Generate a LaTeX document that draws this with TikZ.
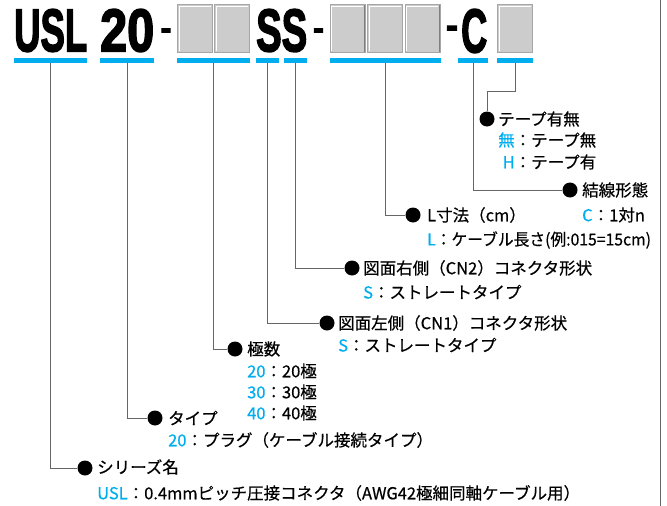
\documentclass[tikz,border=0pt]{standalone}
\usepackage{fontspec}
\setmainfont{Noto Sans CJK JP}[FakeBold=0.5]
\newfontfamily\titlefont{Liberation Sans Bold}[FakeBold=3]
\usepackage{xcolor}
\usetikzlibrary{arrows.meta}
\definecolor{keyblue}{RGB}{0,174,239}
\definecolor{slotgray}{RGB}{204,204,204}
\tikzset{%
  keybar/.style={fill=keyblue, inner sep=0pt, minimum height=5pt},
  slot/.style={fill=slotgray, draw=black!35, line width=0.8pt, inner sep=0pt,
    minimum width=35pt, minimum height=48pt,
    path picture={
      \draw[white, line width=1.2pt] ([shift={(1.6pt,1.6pt)}]path picture bounding box.south west)
        |- ([shift={(-1.6pt,-1.6pt)}]path picture bounding box.north east);
      \draw[black!50, line width=2pt] (path picture bounding box.north east)
        |- (path picture bounding box.south west);}},
  lead/.style={draw=black!60, line width=0.9pt},
  dot/.style={circle, fill=black, inner sep=0pt, minimum size=15pt},
  txt/.style={anchor=west, inner sep=0pt, font=\fontsize{16.5pt}{20pt}\selectfont},
  big/.style={inner sep=0pt, anchor=south west},
  hyph/.style={inner sep=0pt, anchor=base}
}
\newcommand{\kb}[1]{\textcolor{keyblue}{#1}}

\begin{document}
\begin{tikzpicture}[x=1pt,y=-1pt]
    \useasboundingbox (0,0) rectangle (667,506);
    % part number
    \node[big] (tUSL) at (14,52) {\resizebox{73pt}{42pt}{\titlefont USL}};
    \node[big] (tTwenty) at (100,52) {\resizebox{54pt}{42pt}{\titlefont 20}};
    \node[hyph] (hyA) at (166,38.8) {\fontsize{32pt}{32pt}\titlefont -};
    \node[slot] (sP1) at (195,28.5) {};
    \node[slot] (sP2) at (232,28.5) {};
    \node[big] (tSS) at (256,52) {\resizebox{51pt}{42pt}{\titlefont SS}};
    \node[hyph] (hyB) at (318.5,38.8) {\fontsize{32pt}{32pt}\titlefont -};
    \node[slot] (sL1) at (347.5,28.5) {};
    \node[slot] (sL2) at (385,28.5) {};
    \node[slot] (sL3) at (422.5,28.5) {};
    \node[hyph] (hyC) at (452,37.5) {\fontsize{36pt}{36pt}\titlefont -};
    \node[big] (tC) at (461,53) {\resizebox{26pt}{43pt}{\titlefont C}};
    \node[slot] (sT) at (515,28.5) {};
    % blue bars
    \node[keybar, minimum width=73pt] (bUSL) at (50.5,60.5) {};
    \node[keybar, minimum width=54pt] (bTwenty) at (127,60.5) {};
    \node[keybar, minimum width=73pt] (bPole) at (213.5,60.5) {};
    \node[keybar, minimum width=23pt] (bSa) at (267.5,60.5) {};
    \node[keybar, minimum width=23pt] (bSb) at (295.5,60.5) {};
    \node[keybar, minimum width=111pt] (bLen) at (385.5,60.5) {};
    \node[keybar, minimum width=30pt] (bC) at (473,60.5) {};
    \node[keybar, minimum width=36pt] (bT) at (515,60.5) {};
    % dots
    \node[dot] (dTape) at (487,119) {};
    \node[dot] (dWire) at (570,190) {};
    \node[dot] (dLen) at (413,215) {};
    \node[dot] (dCNb) at (352,268) {};
    \node[dot] (dCNa) at (327,323) {};
    \node[dot] (dPole) at (235,349) {};
    \node[dot] (dType) at (155,418) {};
    \node[dot] (dSer) at (85,468) {};
    % leaders
    \coordinate (kT) at (487,91);
    \draw[lead] (bT.south) |- (kT) -- (dTape);
    \draw[lead] (bC.south) |- (dWire);
    \draw[lead] (bLen.south) |- (dLen);
    \draw[lead] (bSb.south) |- (dCNb);
    \draw[lead] (bSa.south) |- (dCNa);
    \draw[lead] (bPole.south) |- (dPole);
    \draw[lead] (bTwenty.south) |- (dType);
    \draw[lead] (bUSL.south) |- (dSer);
    \draw[lead] (660,0) -- (660,506);
    % texts
    \node[txt] (tTape) at (498,119) {テープ有無};
    \node[txt] (tTape1) at (498,140) {\kb{無}：テープ無};
    \node[txt] (tTape2) at (498,162) {\makebox[1em][r]{\kb{H}}：テープ有};
    \node[txt] (tWire) at (582,190) {結線形態};
    \node[txt] (tWire1) at (582,215) {\kb{C}：1対n};
    \node[txt] (tLen) at (427,215) {L寸法（cm）};
    \node[txt] (tLen1) at (427,240) {\scalebox{0.955}[1]{\kb{L}：ケーブル長さ(例:015=15cm)}};
    \node[txt] (tCNb) at (363,268) {図面右側（CN2）コネクタ形状};
    \node[txt] (tCNb1) at (363,292) {\kb{S}：ストレートタイプ};
    \node[txt] (tCNa) at (338,323) {図面左側（CN1）コネクタ形状};
    \node[txt] (tCNa1) at (338,345) {\kb{S}：ストレートタイプ};
    \node[txt] (tPole) at (247,349) {極数};
    \node[txt] (tPole1) at (247,371) {\kb{20}：20極};
    \node[txt] (tPole2) at (247,392) {\kb{30}：30極};
    \node[txt] (tPole3) at (247,413) {\kb{40}：40極};
    \node[txt] (tType) at (168,418) {タイプ};
    \node[txt] (tType1) at (168,440) {\kb{20}：プラグ（ケーブル接続タイプ）};
    \node[txt] (tSer) at (97,467) {シリーズ名};
    \node[txt] (tSer1) at (97,493) {\kb{USL}：0.4mmピッチ圧接コネクタ（AWG42極細同軸ケーブル用）};
\end{tikzpicture}
\end{document}
